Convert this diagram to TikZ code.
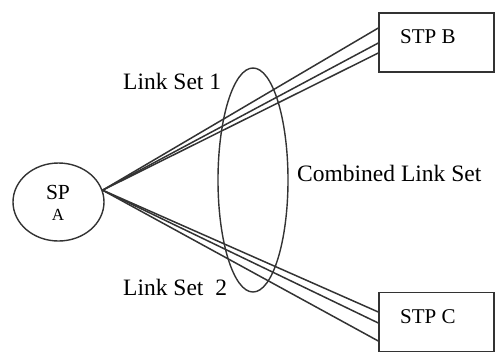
\documentclass[tikz,border=0pt]{standalone}
\usepackage{fontspec}
\setmainfont{Liberation Serif}
\usetikzlibrary{shapes.geometric}
\definecolor{ink}{HTML}{333333}
\begin{document}
\begin{tikzpicture}[x=1pt,y=-1pt,
  shape line/.style={draw=ink, line width=1.4pt},
  link/.style={draw=ink, line width=1.5pt},
  stpbox/.style={shape line, rectangle, minimum width=115pt, minimum height=59pt, inner sep=0pt},
  lbl/.style={font=\fontsize{23.5}{28}\selectfont, text=black, inner sep=0pt}]
\useasboundingbox (0,0) rectangle (501,360);
\node[shape line, ellipse, minimum width=91pt, minimum height=78pt, inner sep=0pt] (sp) at (58.5,202) {};
\node[font=\fontsize{21.5}{24}\selectfont, inner sep=0pt] (sptext) at (58,192) {SP};
\node[font=\fontsize{17}{20}\selectfont, inner sep=0pt] (atext) at (58,215) {A};
\node[stpbox] (stpb) at (436.5,42.5) {};
\node[font=\fontsize{21}{24}\selectfont, inner sep=0pt, anchor=west] (stpbt) at (400,37) {STP B};
\node[stpbox] (stpc) at (436.5,322) {};
\node[font=\fontsize{21}{24}\selectfont, inner sep=0pt, anchor=west] (stpct) at (400,317) {STP C};
\coordinate (conv) at (sp.15);
\draw[link] (conv) -- ([yshift=14.5pt]stpb.west);
\draw[link] (conv) -- ([yshift=-0.5pt]stpb.west);
\draw[link] (conv) -- ([yshift=-10.5pt]stpb.west);
\draw[link] (conv) -- ([yshift=10pt]stpc.west);
\draw[link] (conv) -- ([yshift=-1pt]stpc.west);
\draw[link] (conv) -- ([yshift=-19pt]stpc.west);
\node[shape line, ellipse, minimum width=70pt, minimum height=224pt, inner sep=0pt] (comb) at (253,180) {};
\node[lbl, anchor=west] (ls1) at (123,81) {Link Set 1};
\node[lbl, anchor=west] (ls2) at (123,287) {Link Set\ \ 2};
\node[lbl, anchor=west] (cls) at (297,173) {Combined Link Set};
\end{tikzpicture}
\end{document}
